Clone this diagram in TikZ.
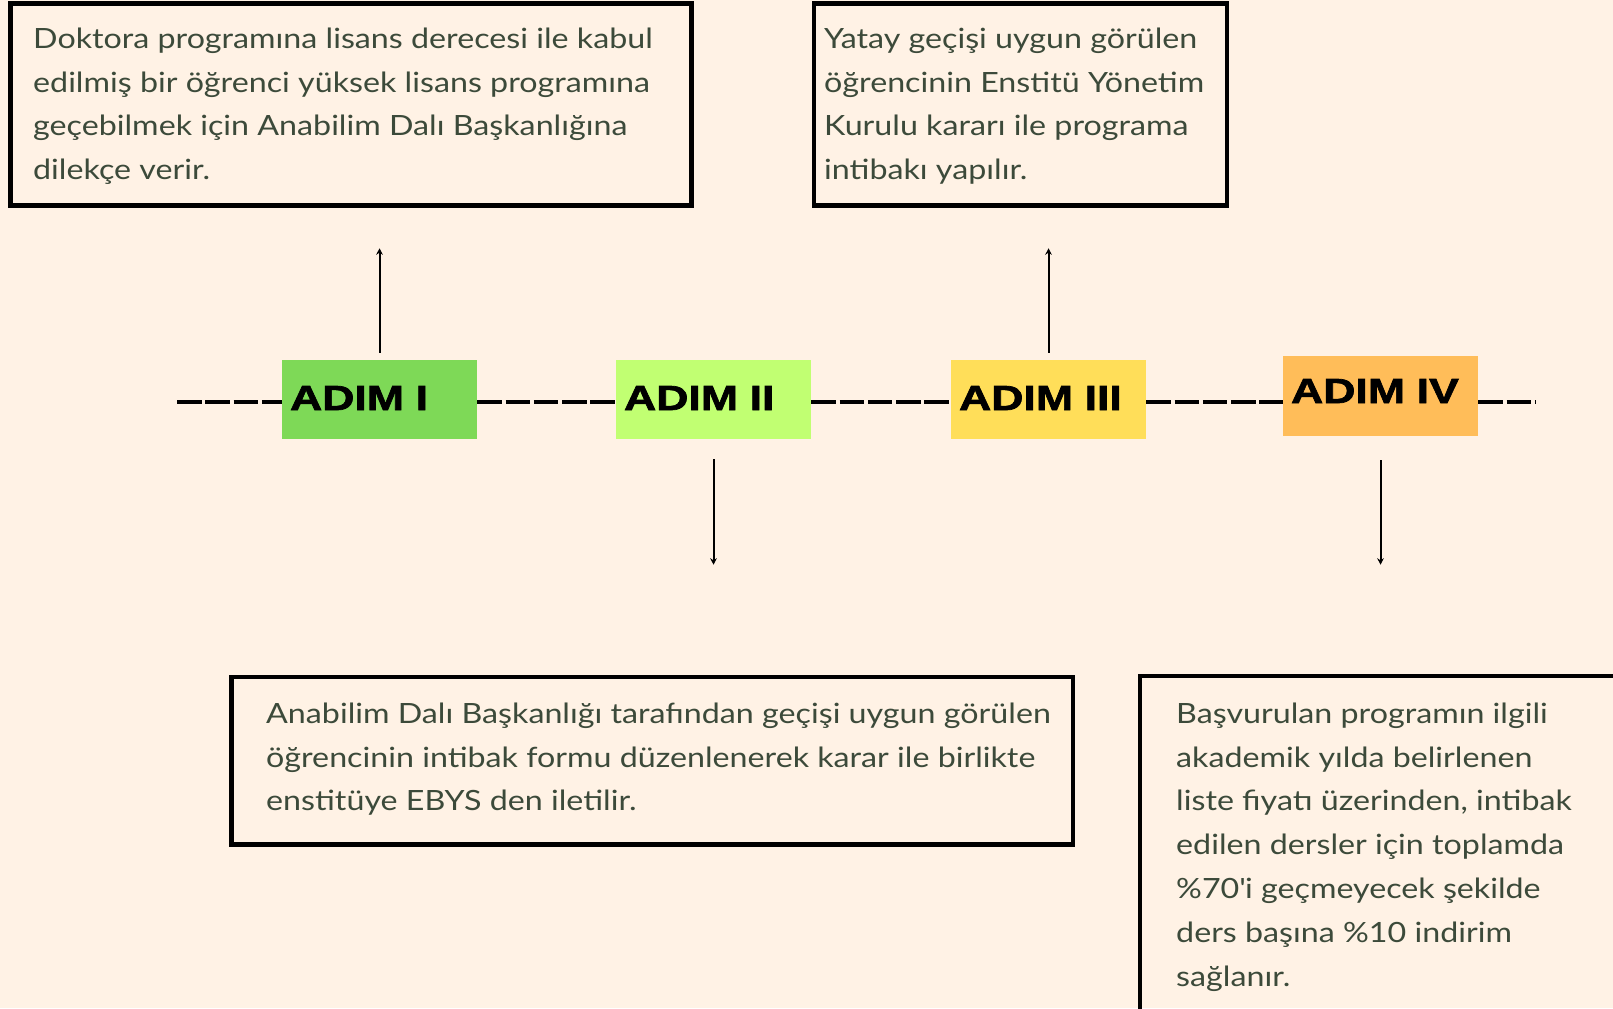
\documentclass[tikz,border=0pt]{standalone}
\usepackage{fontspec}
\setmainfont{Lato}[FakeStretch=1.155]
\newfontfamily\adimfont{Liberation Sans Bold}[FakeStretch=1.28,FakeBold=2]
\usetikzlibrary{arrows.meta,calc}
\definecolor{bg}{HTML}{FFF2E5}
\definecolor{ink}{HTML}{3C4A3A}
\definecolor{cA}{HTML}{7ED957}
\definecolor{cB}{HTML}{C1FF72}
\definecolor{cC}{HTML}{FFDE59}
\definecolor{cD}{HTML}{FFBD59}
\begin{document}
\begin{tikzpicture}[x=1bp,y=-1bp,
  framebox/.style={draw=black,line width=4.5bp,inner sep=0pt,rectangle},
  adimbox/.style={rectangle,inner ysep=0pt,inner xsep=8bp,text width=179bp,align=left,
    minimum height=79bp,text height=25bp,text depth=4bp,
    font=\adimfont\fontsize{35}{35}\selectfont,text=black},
  txt/.style={font=\fontsize{28}{44}\selectfont,text=ink,align=left,inner sep=0pt,anchor=north west},
  dashline/.style={line width=3.4bp,dash pattern=on 24.5bp off 3.8bp},
  arr/.style={line width=2bp,-{Stealth[length=6.5bp,width=6.5bp]}}]
\useasboundingbox (0,0) rectangle (1613,1008);
\clip (0,0) rectangle (1613,1008);
\fill[bg] (0,0) rectangle (1613,1008);

% text frames
\node[framebox,minimum width=681bp,minimum height=202bp] (b1) at (351,104.5) {};
\node[framebox,minimum width=413bp,minimum height=202bp] (b3) at (1020.5,104.5) {};
\node[framebox,minimum width=841.5bp,minimum height=167.5bp] (b2) at (652.25,760.75) {};
\node[framebox,minimum width=560bp,minimum height=340bp] (b4) at (1419.8,846) {};

% texts
\node[txt] (t1) at (33,26) {\rule{0pt}{22bp}Doktora programına lisans derecesi ile kabul\\
edilmiş bir öğrenci yüksek lisans programına\\
geçebilmek için Anabilim Dalı Başkanlığına\\
dilekçe verir.};
\node[txt] (t3) at (824,26) {\rule{0pt}{22bp}Yatay geçişi uygun görülen\\
öğrencinin Enstitü Yönetim\\
Kurulu kararı ile programa\\
intibakı yapılır.};
\node[txt] (t2) at (266,701) {\rule{0pt}{22bp}Anabilim Dalı Başkanlığı tarafından geçişi uygun görülen\\
öğrencinin intibak formu düzenlenerek karar ile birlikte\\
enstitüye EBYS den iletilir.};
\node[txt] (t4) at (1176,701) {\rule{0pt}{22bp}Başvurulan programın ilgili\\
akademik yılda belirlenen\\
liste fiyatı üzerinden, intibak\\
edilen dersler için toplamda\\
\%70\textquotesingle i geçmeyecek şekilde\\
ders başına \%10 indirim\\
sağlanır.};

% step boxes
\node[adimbox,fill=cA] (a1) at (379.5,399.5) {ADIM I};
\node[adimbox,fill=cB] (a2) at (713.5,399.5) {ADIM II};
\node[adimbox,fill=cC] (a3) at (1048.5,399.5) {ADIM III};
\node[adimbox,fill=cD,minimum height=80bp,text depth=11bp] (a4) at (1380.5,396) {ADIM IV};

% timeline
\coordinate (L0) at (177,402);
\coordinate (L1) at (1536,402);
\draw[dashline] (L0) -- (a1.west |- L0);
\draw[dashline] (a1.east |- L0) -- (a2.west |- L0);
\draw[dashline] (a2.east |- L0) -- (a3.west |- L0);
\draw[dashline] (a3.east |- L0) -- (a4.west |- L0);
\draw[dashline] (a4.east |- L0) -- (L1);

% arrows
\draw[arr,shorten <=7bp,shorten >=40.5bp] (a1.north) -- (a1.north |- b1.south);
\draw[arr,shorten <=7bp,shorten >=40.5bp] (a3.north) -- (a3.north |- b3.south);
\draw[arr,shorten <=20bp,shorten >=110bp] (a2.south) -- (a2.south |- b2.north);
\draw[arr,shorten <=24bp,shorten >=109bp] (a4.south) -- (a4.south |- b4.north);
\end{tikzpicture}
\end{document}
